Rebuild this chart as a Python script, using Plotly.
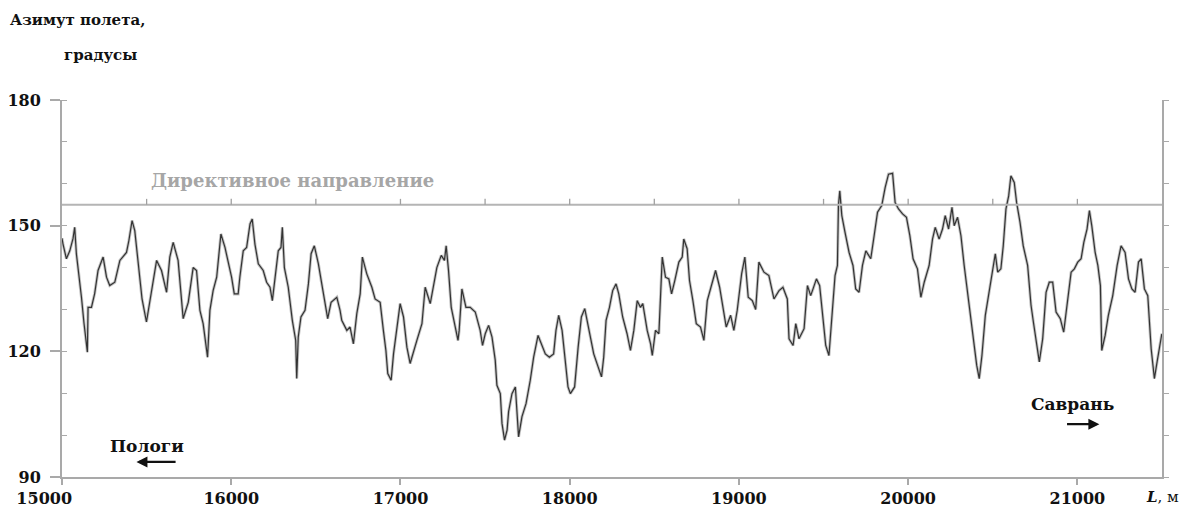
import plotly.graph_objects as go

# Data
distance_m = [
    15000, 15006, 15026, 15046, 15065, 15075, 15085, 15095, 15115, 15130, 15150, 15154, 15174, 15193,
    15213, 15243, 15263, 15282, 15312, 15342, 15381, 15395, 15414, 15430, 15450, 15473, 15499, 15519,
    15538, 15559, 15588, 15618, 15637, 15657, 15686, 15706, 15716, 15746, 15775, 15795, 15815,
    15834, 15860, 15874, 15893, 15914, 15939, 15963, 15982, 16002, 16018, 16041, 16051, 16071, 16091,
    16111, 16124, 16140, 16160, 16189, 16209, 16229, 16243, 16259, 16278, 16294, 16302, 16314, 16337,
    16361, 16381, 16387, 16396, 16412, 16436, 16456, 16472, 16491, 16515, 16535, 16554, 16570, 16590,
    16624, 16643,
    16653, 16683, 16702, 16722, 16742, 16762, 16775, 16801, 16831, 16850, 16880, 16899, 16914, 16925,
    16945, 16959, 16979, 16998, 17018, 17038, 17057, 17077, 17097, 17127, 17146, 17176, 17195, 17215,
    17241, 17260, 17270, 17284, 17300, 17324, 17340, 17347, 17363, 17387, 17412, 17442, 17471,
    17485, 17501, 17521, 17541, 17560, 17570, 17590, 17600, 17615, 17630, 17639, 17659, 17679, 17698,
    17718, 17742, 17767, 17787, 17813, 17832, 17856, 17880, 17905, 17919, 17935, 17955, 17970, 17990,
    18004, 18029, 18050, 18069, 18089, 18112, 18142, 18168, 18188, 18201, 18215, 18235, 18254, 18274,
    18290, 18313, 18339, 18359, 18379, 18399, 18418, 18432, 18458, 18478, 18488, 18507, 18527, 18547,
    18566, 18586, 18602, 18621, 18645, 18665, 18674, 18694, 18708, 18728, 18748, 18773, 18793, 18813,
    18838, 18862, 18886, 18905, 18925, 18951, 18970, 18990, 19016, 19035, 19055, 19079, 19099, 19118,
    19148, 19177, 19207, 19237, 19260, 19286, 19296, 19320, 19336, 19355, 19385, 19405, 19424, 19438,
    19458, 19477, 19493, 19513, 19532, 19552, 19568, 19582, 19588, 19596, 19608, 19627, 19651, 19674,
    19690, 19710, 19730, 19750, 19779, 19799, 19819, 19844, 19864, 19884, 19908, 19923,
    19943, 19967, 19990, 20010, 20029, 20055, 20075, 20095, 20124, 20144, 20160, 20183, 20203, 20219,
    20239, 20259, 20272, 20292, 20312, 20331, 20351, 20371, 20391, 20405, 20420, 20436, 20456, 20476,
    20495, 20515, 20529, 20548, 20562, 20578, 20594, 20607, 20627, 20641, 20661, 20680, 20706, 20726,
    20740, 20761, 20775, 20795, 20815, 20834, 20854, 20874, 20899, 20919, 20943, 20963, 20982, 21002,
    21022, 21038, 21057, 21071, 21085, 21105, 21121, 21136, 21144, 21164, 21183, 21209, 21235, 21258,
    21282, 21302, 21322, 21341, 21361, 21377, 21396, 21416, 21436, 21455, 21471, 21485, 21499,
]

azimuth_deg = [
    147.0, 145.6, 142.1, 144.0, 146.9, 149.6, 143.3, 140.0, 132.9, 126.7, 119.8, 130.5, 130.5, 133.8,
    139.3, 142.5, 137.7, 135.7, 136.5, 141.7, 143.6, 146.4, 151.2, 148.8, 141.7, 132.5, 127.0, 132.1,
    136.9, 141.7, 139.3, 134.1, 142.5, 146.0, 141.7, 132.1, 127.8, 131.7, 140.0, 139.3, 129.8,
    126.6, 118.6, 129.8, 134.5, 137.7, 148.0, 144.8, 141.7, 137.7, 133.7, 133.7, 137.7, 144.0, 144.8,
    150.4, 151.6, 145.6, 140.9, 139.3, 136.5, 135.3, 132.1, 137.7, 144.0, 144.8, 149.6, 140.0, 135.3,
    127.4, 122.6, 113.5, 123.4, 128.2, 129.8, 136.1, 143.3, 145.2, 140.9, 136.1, 131.4, 127.8, 131.7,
    132.9, 129.8,
    127.4, 125.0, 125.8, 121.8, 129.0, 133.7, 142.5, 138.5, 135.3, 132.5, 131.7, 125.0, 120.2, 114.7,
    113.1, 119.4, 125.0, 131.4, 128.2, 121.0, 117.1, 120.2, 122.6, 126.6, 135.3, 131.4, 136.1, 140.0,
    142.9, 141.7, 145.2, 139.3, 130.5, 125.8, 122.6, 125.0, 134.9, 130.5, 130.5, 129.4, 125.0,
    121.4, 124.2, 126.2, 123.4, 117.9, 111.9, 109.9, 102.8, 98.8, 101.2, 105.6, 109.9, 111.5, 99.6,
    104.4, 107.5, 113.1, 118.6, 123.8, 121.8, 119.4, 118.6, 119.4, 125.0, 128.6, 125.0, 118.6, 111.5,
    109.9, 111.5, 121.0, 128.2, 130.2, 125.8, 119.4, 116.3, 113.9, 118.6, 127.4, 130.5, 134.5, 136.1,
    133.7, 128.2, 124.2, 120.2, 125.0, 132.1, 130.5, 131.4, 125.0, 121.8, 119.0, 125.0, 124.2, 142.5,
    137.7, 137.3, 133.7, 136.9, 141.3, 142.5, 146.8, 144.5, 136.9, 132.1, 126.6, 125.8, 122.6, 132.1,
    136.1, 139.3, 135.3, 130.5, 125.8, 128.6, 125.0, 129.8, 138.5, 142.5, 132.9, 132.1, 130.0, 141.3,
    138.9, 138.1, 132.5, 134.5, 135.3, 132.5, 123.0, 121.4, 126.6, 123.0, 125.4, 135.7, 133.3, 134.9,
    137.3, 135.7, 128.6, 121.4, 119.0, 129.4, 138.1, 140.5, 154.8, 158.3, 152.4, 148.4, 143.6, 140.5,
    134.9, 134.1, 140.5, 144.0, 142.1, 147.6, 153.2, 154.8, 159.1, 162.3, 162.5, 155.5,
    154.0, 152.8, 152.0, 147.6, 142.1, 139.7, 132.9, 136.5, 140.5, 146.8, 149.6, 146.8, 149.2, 152.4,
    149.2, 154.4, 150.0, 152.0, 147.6, 140.5, 134.1, 127.8, 120.6, 116.7, 113.5, 119.0, 128.6, 133.3,
    138.1, 143.3, 138.9, 139.7, 145.2, 154.0, 157.1, 161.9, 160.3, 155.5, 150.8, 145.2, 140.5, 131.0,
    127.0, 121.4, 117.5, 123.0, 134.1, 136.5, 136.5, 129.4, 127.8, 124.6, 132.5, 138.9, 139.7, 141.3,
    142.1, 146.0, 149.2, 153.6, 150.0, 143.6, 140.5, 135.7, 120.2, 123.8, 128.6, 133.3, 140.5, 145.2,
    143.6, 137.3, 134.9, 134.1, 141.3, 142.1, 134.9, 133.3, 120.6, 113.5, 117.5, 121.4, 124.2,
]

directive_deg = 155
directive_ticks_m = [15500, 16000, 16500, 17000, 17500, 18000, 18500, 19000,
                     19500, 20000, 20500, 21000]
x_range = [15000, 21500]
y_range = [90, 180]
x_ticks = [15000, 16000, 17000, 18000, 19000, 20000, 21000]
y_ticks = [90, 120, 150, 180]

SERIF = "DejaVu Serif"
AXIS_GRAY = "#a9a9a9"

fig = go.Figure()

# halo + line (scan-like look)
fig.add_trace(go.Scatter(x=distance_m, y=azimuth_deg, mode="lines",
                         line=dict(color="#c4c4c4", width=3.0), hoverinfo="skip",
                         showlegend=False))
fig.add_trace(go.Scatter(x=distance_m, y=azimuth_deg, mode="lines",
                         line=dict(color="#333333", width=1.2), showlegend=False))

# directive direction line
fig.add_trace(go.Scatter(x=x_range, y=[directive_deg, directive_deg], mode="lines",
                         line=dict(color="#b5b5b5", width=2), showlegend=False,
                         hoverinfo="skip"))
# small upward ticks on the directive line (every 500 m)
fig.add_trace(go.Scatter(x=directive_ticks_m, y=[directive_deg] * len(directive_ticks_m),
                         mode="markers", marker=dict(size=1, opacity=0),
                         error_y=dict(type="constant", value=1.4, symmetric=False,
                                      valueminus=0, width=0, thickness=1.3,
                                      color="#a0a0a0"),
                         showlegend=False, hoverinfo="skip"))

# invisible trace for right axis
fig.add_trace(go.Scatter(x=[x_range[0]], y=[y_range[0]], yaxis="y2", mode="markers",
                         marker=dict(opacity=0), showlegend=False, hoverinfo="skip"))

tickfont = dict(family=SERIF, size=16, color="#111111")
# first x label sits shifted left of its tick in the reference
x_ticktext = [f"<b>{v}</b>" + ("&nbsp;" * 7 if i == 0 else "") for i, v in enumerate(x_ticks)]

fig.update_layout(
    width=1192, height=519,
    margin=dict(l=54, r=38, t=92, b=50, autoexpand=False),
    paper_bgcolor="white", plot_bgcolor="white",
    xaxis=dict(range=x_range, tickvals=x_ticks, ticktext=x_ticktext, automargin=False,
               ticks="outside", ticklen=6, tickwidth=1.5, tickcolor=AXIS_GRAY,
               showline=True, linecolor=AXIS_GRAY, linewidth=2, showgrid=False,
               zeroline=False, tickfont=tickfont),
    yaxis=dict(range=y_range, tickvals=y_ticks, ticktext=[f"<b>{v}</b>" for v in y_ticks],
               automargin=False,
               ticks="outside", ticklen=10, tickwidth=1.5, tickcolor=AXIS_GRAY,
               ticklabelstandoff=6,
               minor=dict(ticks="inside", dtick=10, tick0=90, ticklen=5, tickwidth=1.2,
                          tickcolor=AXIS_GRAY, showgrid=False),
               showline=True, linecolor=AXIS_GRAY, linewidth=2, showgrid=False,
               zeroline=False, tickfont=tickfont),
    yaxis2=dict(range=y_range, overlaying="y", side="right", tick0=90, dtick=10,
                automargin=False,
                ticks="outside", ticklen=5, tickwidth=1.2, tickcolor=AXIS_GRAY,
                showticklabels=False, showline=True, linecolor=AXIS_GRAY, linewidth=2,
                showgrid=False, zeroline=False),
)

ann_font = dict(family=SERIF, size=15, color="#111111")
lbl_font = dict(family=SERIF, size=17, color="#111111")
fig.add_annotation(xref="paper", yref="paper", x=-0.049, y=1.212, xanchor="left",
                   yanchor="middle", text="<b>Азимут полета,</b>", showarrow=False,
                   font=ann_font)
fig.add_annotation(xref="paper", yref="paper", x=0.0, y=1.119, xanchor="left",
                   yanchor="middle", text="<b>градусы</b>", showarrow=False, font=ann_font)
fig.add_annotation(xref="paper", yref="paper", x=0.984, y=-0.052, xanchor="left",
                   yanchor="middle", text="<b><i>L</i></b>, м", showarrow=False,
                   font=dict(family=SERIF, size=15, color="#111111"))
fig.add_annotation(x=16360, y=directive_deg, xanchor="center", yanchor="bottom", yshift=12,
                   text="<b>Директивное направление</b>", showarrow=False,
                   font=dict(family=SERIF, size=18, color="#a6a6a6"))

fig.add_annotation(x=15500, y=97.4, text="<b>Пологи</b>", showarrow=False,
                   font=lbl_font, xanchor="center", yanchor="middle")
fig.add_annotation(x=15440, y=93.6, ax=15680, ay=93.6, axref="x", ayref="y",
                   text="", showarrow=True, arrowhead=2, arrowsize=1, arrowwidth=2.2,
                   arrowcolor="#111111")
fig.add_annotation(x=20974, y=107.4, text="<b>Саврань</b>", showarrow=False,
                   font=lbl_font, xanchor="center", yanchor="middle")
fig.add_annotation(x=21130, y=102.6, ax=20930, ay=102.6, axref="x", ayref="y",
                   text="", showarrow=True, arrowhead=2, arrowsize=1, arrowwidth=2.2,
                   arrowcolor="#111111")

fig.write_html("out.html")
